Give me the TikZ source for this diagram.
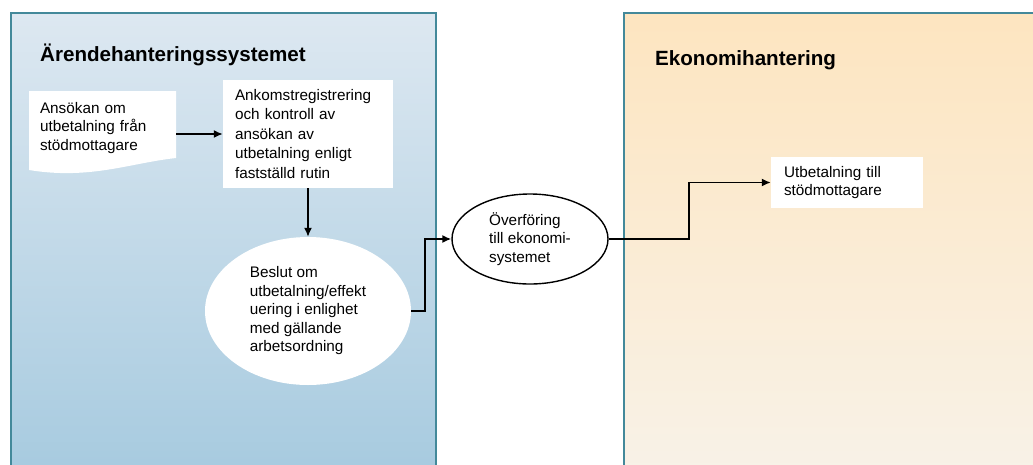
\documentclass[tikz,border=0pt]{standalone}
\usepackage{fontspec}
\setmainfont{Liberation Sans}
\usetikzlibrary{arrows.meta,shapes.geometric}
\definecolor{bluetop}{HTML}{DDE8F1}
\definecolor{bluebot}{HTML}{A6CADF}
\definecolor{peachtop}{HTML}{FDE5C0}
\definecolor{peachbot}{HTML}{F8F2E8}
\definecolor{panelline}{HTML}{43899A}
\tikzset{
  panel/.style={draw=panelline, line width=1.3pt},
  title/.style={anchor=base west, inner sep=0pt, font=\fontsize{20.6}{24}\selectfont\bfseries},
  body/.style={font=\fontsize{15.3}{18.5}\selectfont, align=left},
  whitebox/.style={body, fill=white, draw=none, rectangle, inner sep=0pt},
  conn/.style={line width=1.6pt, -{Latex[length=9pt,width=8pt]}},
}
\begin{document}
\begin{tikzpicture}[x=1pt,y=1pt]
\useasboundingbox (0,0) rectangle (1033,-464);
\clip (0,0) rectangle (1033,-464);
\fill[white] (0,0) rectangle (1033,-464);
% panels
\shade[top color=bluetop, bottom color=bluebot] (11,-13) rectangle (436,-480);
\draw[panel] (11,-13) rectangle (436,-480);
\shade[top color=peachtop, bottom color=peachbot] (624,-13) rectangle (1050,-480);
\draw[panel] (624,-13) rectangle (1050,-480);
\node[title] (t1) at (40,-61) {Ärendehanteringssystemet};
\node[title] (t2) at (655,-65) {Ekonomihantering};
% document shape
\fill[white] (29,-91) -- (176,-91) -- (176,-158) .. controls (130,-163) and (90,-180) .. (29,-170) -- cycle;
\node[body, anchor=center, text width=125pt, inner sep=0pt] (doc) at (102.5,-128) {Ansökan om\\utbetalning från\\stödmottagare};
% box
\node[whitebox, minimum width=170pt, minimum height=108pt, text width=146pt, font=\fontsize{15.3}{19.5}\selectfont] (ank) at (308,-134)
  {Ankomstregistrering\\och kontroll av\\ansökan av\\utbetalning enligt\\fastställd rutin};
% ellipse 1
\node[body, ellipse, fill=white, draw=none, minimum width=206pt, minimum height=148pt, inner sep=0pt] (ell1) at (308,-311)
  {Beslut om\\utbetalning/effekt\\uering i enlighet\\med gällande\\arbetsordning};
% ellipse 2
\node[body, ellipse, fill=white, draw=black, line width=1.4pt, minimum width=156pt, minimum height=90pt, inner sep=0pt] (ell2) at (530,-239)
  {Överföring\\till ekonomi-\\systemet};
% box 2
\node[whitebox, minimum width=152pt, minimum height=51pt, text width=126pt] (utb) at (847,-182.5)
  {Utbetalning till\\stödmottagare};
% connectors
\draw[conn] (176,-134 |- ank.west) -- (ank.west);
\draw[conn] (ank.south) -- (ell1.north);
\draw[conn] (ell1.east) -- ++(14,0) coordinate (c1) |- (ell2.west);
\draw[conn] (ell2.east) -- ++(80,0) coordinate (c2) |- (utb.west);
\end{tikzpicture}
\end{document}
